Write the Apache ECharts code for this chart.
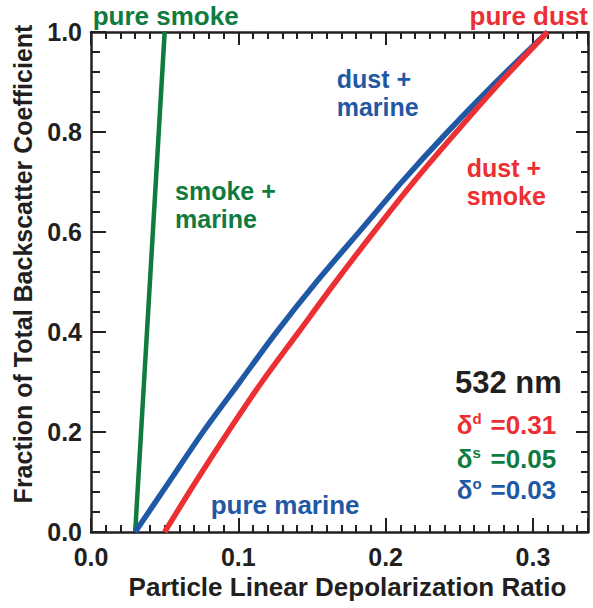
<!DOCTYPE html>
<html>
<head>
<meta charset="utf-8">
<script src="https://cdn.jsdelivr.net/npm/echarts@6/dist/echarts.min.js"></script>
<style>
  html, body { margin: 0; padding: 0; background: #ffffff; }
  #chart { width: 593px; height: 608px; }
</style>
</head>
<body>
<div id="chart"></div>
<script>
// Fraction of total backscatter from the first-named aerosol type
const fraction = [0, 0.1, 0.2, 0.3, 0.4, 0.5, 0.6, 0.7, 0.8, 0.9, 1.0];
// Particle linear depolarization ratio of each mixture
const dustMarine = [0.030, 0.053, 0.076, 0.101, 0.126, 0.153, 0.182, 0.211, 0.242, 0.275, 0.310];
const dustSmoke  = [0.050, 0.071, 0.093, 0.116, 0.141, 0.166, 0.192, 0.219, 0.248, 0.278, 0.310];
const smokeFraction = [0, 0.5, 1.0];
const smokeMarine = [0.030, 0.040, 0.050];

const xTicks = [0.0, 0.1, 0.2, 0.3];
const yTicks = [0.0, 0.2, 0.4, 0.6, 0.8, 1.0];
const X_MAX = 0.3374;

const INK = '#231f20';
const RED = '#ec2f33';
const BLUE = '#1f58a5';
const GREEN = '#0f7b3f';
const FONT = '"Liberation Sans", Arial, Helvetica, sans-serif';

const pairs = (xs, ys) => xs.map((x, i) => [x, ys[i]]);

function majorX(position) {
  return {
    type: 'value', position, min: 0, max: X_MAX, interval: 0.1,
    axisLine: { show: true, onZero: false, lineStyle: { color: INK, width: 2.5 } },
    axisTick: { show: true, inside: true, length: position === 'bottom' ? 14 : 13, lineStyle: { color: INK, width: 2 } },
    axisLabel: {
      show: position === 'bottom', margin: 12,
      fontFamily: FONT, fontWeight: 'bold', fontSize: 25, color: INK,
      formatter: v => xTicks.some(t => Math.abs(t - v) < 1e-6) ? v.toFixed(1) : ''
    },
    splitLine: { show: false }
  };
}
function minorX(position) {
  return {
    type: 'value', position, min: 0, max: X_MAX, interval: 0.01,
    axisLine: { show: false, onZero: false },
    axisTick: { show: true, inside: true, length: 7, lineStyle: { color: INK, width: 2 } },
    axisLabel: { show: false },
    splitLine: { show: false }
  };
}
function majorY(position) {
  return {
    type: 'value', position, min: 0, max: 1, interval: 0.2,
    axisLine: { show: true, onZero: false, lineStyle: { color: INK, width: 2.5 } },
    axisTick: { show: true, inside: true, length: position === 'left' ? 15 : 12, lineStyle: { color: INK, width: 2 } },
    axisLabel: {
      show: position === 'left', margin: 9, padding: [4, 0, 0, 0],
      fontFamily: FONT, fontWeight: 'bold', fontSize: 25, color: INK,
      formatter: v => yTicks.some(t => Math.abs(t - v) < 1e-6) ? v.toFixed(1) : ''
    },
    splitLine: { show: false }
  };
}
function minorY(position) {
  return {
    type: 'value', position, min: 0, max: 1, interval: 0.04,
    axisLine: { show: false, onZero: false },
    axisTick: { show: true, inside: true, length: position === 'left' ? 9 : 7, lineStyle: { color: INK, width: 2 } },
    axisLabel: { show: false },
    splitLine: { show: false }
  };
}

function label(text, x, y, color, opts) {
  return {
    type: 'text', x, y, z: 100,
    style: Object.assign({
      text, fill: color, fontFamily: FONT, fontWeight: 'bold', fontSize: 26,
      lineHeight: 26, align: 'left', verticalAlign: 'middle'
    }, opts || {})
  };
}
// Two-line annotation, one text per line
function stacked(l1, l2, x, yMid, color) {
  const half = 14;
  return [
    label(l1, x, yMid - half, color, { fontSize: 25, lineHeight: 25 }),
    label(l2, x, yMid + half, color, { fontSize: 25, lineHeight: 25 })
  ];
}
function deltaLabel(sup, value, x, y, color) {
  return {
    type: 'text', x, y, z: 100,
    style: {
      text: '{g|δ}{s|' + sup + '}{g|=' + value + '}',
      fill: color, fontFamily: FONT, fontWeight: 'bold', fontSize: 26,
      align: 'left', verticalAlign: 'middle',
      rich: {
        g: { fill: color, fontFamily: FONT, fontWeight: 'bold', fontSize: 26, lineHeight: 28 },
        s: { fill: color, fontFamily: FONT, fontWeight: 'bold', fontSize: 15, verticalAlign: 'top', lineHeight: 28, width: 18, align: 'left' }
      }
    }
  };
}

const chart = echarts.init(document.getElementById('chart'), null, { renderer: 'svg' });
chart.setOption({
  animation: false,
  backgroundColor: '#ffffff',
  grid: { left: 91, top: 32, right: 5, bottom: 76, outerBoundsMode: 'none' },
  xAxis: [majorX('bottom'), minorX('bottom'), majorX('top'), minorX('top')],
  yAxis: [majorY('left'), minorY('left'), majorY('right'), minorY('right')],
  series: [
    {
      name: 'smoke + marine', type: 'line', xAxisIndex: 0, yAxisIndex: 0,
      data: pairs(smokeMarine, smokeFraction), showSymbol: false, symbol: 'none', clip: false,
      lineStyle: { color: GREEN, width: 4.5 }
    },
    {
      name: 'dust + marine', type: 'line', xAxisIndex: 0, yAxisIndex: 0,
      data: pairs(dustMarine, fraction), showSymbol: false, symbol: 'none', clip: false, smooth: 0.3,
      lineStyle: { color: BLUE, width: 5.5 }
    },
    {
      name: 'dust + smoke', type: 'line', xAxisIndex: 0, yAxisIndex: 0,
      data: pairs(dustSmoke, fraction), showSymbol: false, symbol: 'none', clip: false, smooth: 0.3,
      lineStyle: { color: RED, width: 5.5 }
    }
  ],
  graphic: [
    label('Particle Linear Depolarization Ratio', 347.5, 587, INK, { align: 'center', lineHeight: 28 }),
    {
      type: 'text', x: 23, y: 264, rotation: Math.PI / 2, z: 100,
      style: {
        text: 'Fraction of Total Backscatter Coefficient', fill: INK,
        fontFamily: FONT, fontWeight: 'bold', fontSize: 25, align: 'center', verticalAlign: 'middle'
      }
    },
    label('pure smoke', 92.7, 16, GREEN),
    label('pure dust', 588, 16, RED, { align: 'right' }),
    label('pure marine', 210.7, 504.5, BLUE),
    ...stacked('dust +', 'marine', 336.7, 93.4, BLUE),
    ...stacked('dust +', 'smoke', 466.7, 181.8, RED),
    ...stacked('smoke +', 'marine', 175, 204.8, GREEN),
    label('532 nm', 455, 382.8, INK, { fontSize: 31, lineHeight: 32 }),
    deltaLabel('d', '0.31', 456.7, 425, RED),
    deltaLabel('s', '0.05', 456.7, 458.5, GREEN),
    deltaLabel('o', '0.03', 456.7, 490, BLUE)
  ]
});
</script>
</body>
</html>
